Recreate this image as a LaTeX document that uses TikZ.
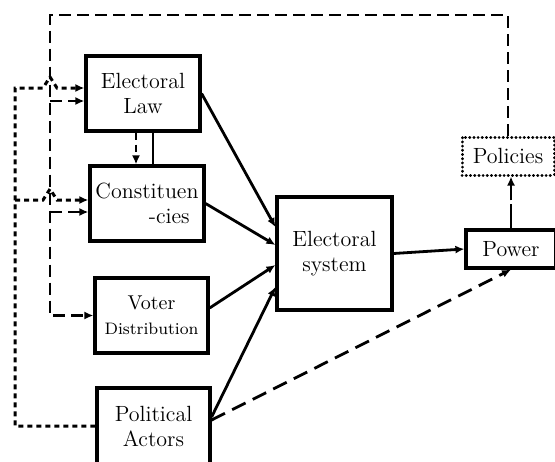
\documentclass[tikz,border=0pt]{standalone}
\usetikzlibrary{arrows.meta,positioning}
\begin{document}
\begin{tikzpicture}[x=0.5pt, y=-0.5pt, >={Latex[length=4.5pt,width=4pt]},
  box/.style={draw, line width=1.6pt, align=center, inner sep=0pt, font=\fontsize{11}{12.5}\selectfont},
  link/.style={line width=1.4pt},
  fb/.style={line width=1.4pt, dash pattern=on 6pt off 3pt},
  shortfb/.style={line width=1.4pt, dash pattern=on 3.5pt off 2.5pt},
  dots/.style={line width=1.5pt, dash pattern=on 2.5pt off 2pt},
  longfb/.style={line width=1.4pt, dash pattern=on 7.5pt off 4pt}]
  \useasboundingbox (0,0) rectangle (555,461);

  % boxes
  \node[box, minimum width=57pt, minimum height=37.5pt] (law) at (143,93.5) {Electoral\\Law};
  \node[box, minimum width=57pt, minimum height=37.5pt, align=right] (const) at (147,203.5) {Constituen\\-cies\hspace*{0.4em}};
  \node[box, minimum width=56.5pt, minimum height=37.5pt] (voter) at (151.5,315.5) {{\fontsize{10}{12}\selectfont Voter}\\{\fontsize{8.3}{11}\selectfont Distribution}};
  \node[box, minimum width=56.5pt, minimum height=38pt] (actors) at (153.5,426) {Political\\Actors};
  \node[box, minimum width=57.5pt, minimum height=56.5pt] (es) at (334.5,253.5) {Electoral\\system};
  \node[box, minimum width=45pt, minimum height=19pt] (power) at (511,249) {Power};
  \node[box, minimum width=46pt, minimum height=19pt, line width=1.5pt, dash pattern=on 0.1pt off 2pt, line cap=round] (pol) at (508,156) {Policies};

  % into the electoral system
  \path[link,->]
    (law.east) edge ([yshift=13.25pt]es.west)
    (const.east) edge ([yshift=4.25pt]es.west)
    ([yshift=3.75pt]voter.east) edge ([yshift=-5.75pt]es.west)
    ([yshift=4.5pt]actors.east) edge ([yshift=-16.75pt]es.west);

  \draw[link,->] (es.east) -- (power.west);
  \draw[link] ([xshift=5pt]law.south) -- ([xshift=5pt]law.south |- const.north);
  \draw[shortfb,->] ([xshift=-3.5pt]law.south) -- ([xshift=-3.5pt]law.south |- const.north);
  \draw[longfb,->] ([yshift=3pt]actors.east) -- (power.south);
  \draw[link,dash pattern=on 12pt off 2pt,->] (power.north) -- (power.north |- pol.south);

  % policies feed back
  \coordinate (fbtop) at (50,15);
  \coordinate (j1) at (50,101);
  \coordinate (j2) at (50,212);
  \draw[fb,->] (pol.north) |- (fbtop) |- (voter.west);
  \draw[fb,->] (j1) -- (j1 -| law.west);
  \draw[fb,->] (j2) -- (j2 -| const.west);

  % actors feed back
  \coordinate (d1) at (15,88);
  \coordinate (d2) at (15,200);
  \draw[dots,->] (actors.west) -| (d1) -- ++(28,0) -- ++(7,-11) -- ++(7,11) -- (d1 -| law.west);
  \draw[dots,->] (d2) -- ++(28,0) -- ++(7,-11) -- ++(7,11) -- (d2 -| const.west);
\end{tikzpicture}
\end{document}
